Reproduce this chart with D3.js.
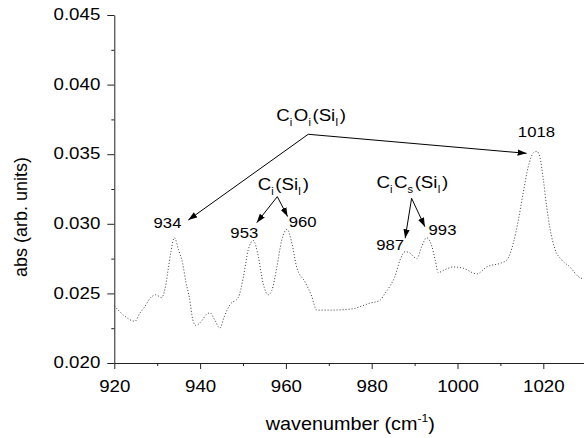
<!DOCTYPE html>
<html>
<head>
<meta charset="utf-8">
<script src="https://cdn.jsdelivr.net/npm/d3@7"></script>
<style>
  body { margin: 0; background: #fff; }
  svg text { font-family: 'Liberation Sans', Arial, sans-serif; fill: #000; }
</style>
</head>
<body>
<div id="chart"></div>
<script>
// spectrum
const wavenumber = [920.0, 922.3, 924.8, 926.0, 927.0, 928.5, 929.7, 931.0, 931.8, 932.5, 933.2, 934.0,
  935.0, 935.9, 936.7, 937.5, 938.3, 939.0, 940.3, 941.5, 942.3, 943.4, 944.6, 945.6, 947.0, 948.9,
  950.1, 951.2, 952.4, 953.6, 954.7, 955.9, 956.7, 957.9, 959.0, 960.3, 961.4, 962.5, 964.5, 966.0,
  967.2, 969.5, 970.7, 975.7, 977.7, 979.6, 981.9, 983.1, 984.2, 985.4, 986.6, 987.8, 988.9, 990.5,
  991.7, 992.8, 994.0, 994.8, 995.5, 997.0, 999.0, 1001.4, 1004.5, 1006.8, 1010.3, 1011.5, 1013.0,
  1014.2, 1015.3, 1016.5, 1017.7, 1018.5, 1019.2, 1020.0, 1020.8, 1021.6, 1022.7, 1024.3, 1026.2,
  1028.2, 1030.0]
const absorbance = [0.0241, 0.0234, 0.0230, 0.0236, 0.0240, 0.0247, 0.0249, 0.0247, 0.0253, 0.0266, 0.0280, 0.0290,
  0.0281, 0.0272, 0.0258, 0.0247, 0.0231, 0.0227, 0.0230, 0.0235, 0.0236, 0.0231, 0.0225, 0.0233, 0.0242, 0.0247,
  0.0262, 0.0281, 0.0288, 0.0276, 0.0257, 0.0249, 0.0252, 0.0269, 0.0288, 0.0296, 0.0286, 0.0269, 0.0258, 0.0248,
  0.0238, 0.0238, 0.0238, 0.0239, 0.0241, 0.0243, 0.0245, 0.0250, 0.0255, 0.0262, 0.0274, 0.0280, 0.0279, 0.0275,
  0.0284, 0.0290, 0.0284, 0.0274, 0.0265, 0.0267, 0.0269, 0.0268, 0.0264, 0.0269, 0.0272, 0.0274, 0.0286,
  0.0303, 0.0322, 0.0341, 0.0351, 0.0352, 0.0348, 0.0332, 0.0312, 0.0296, 0.0282, 0.0274, 0.0269,
  0.0262, 0.0260]

const xTicks = [920, 940, 960, 980, 1000, 1020]
const xMinor = [930, 950, 970, 990, 1010, 1030]
const yTicks = [0.020, 0.025, 0.030, 0.035, 0.040, 0.045]
const yMinor = [0.0225, 0.0275, 0.0325, 0.0375, 0.0425]

// peak numbers (centre x, baseline y in data units)
const peakText = ['934', '953', '960', '987', '993', '1018']
const peakX = [932.4, 950.3, 963.9, 984.3, 996.5, 1018.4]
const peakY = [0.02970, 0.02898, 0.02979, 0.02812, 0.02920, 0.03624]

// defect labels, pieces are [normal, subscript]
const groupParts = [
  [['C', 'i'], ['O', 'i'], ['(Si', 'I'], [')', '']],
  [['C', 'i'], ['(Si', 'I'], [')', '']],
  [['C', 'i'], ['C', 's'], ['(Si', 'I'], [')', '']]
]
const groupX = [965.9, 959.4, 989.5]
const groupY = [0.03739, 0.03243, 0.03254]

// arrows from label to peak
const arrowFromX = [965.2, 965.2, 958.0, 958.0, 989.3, 989.3]
const arrowFromY = [0.03643, 0.03643, 0.03195, 0.03195, 0.03183, 0.03183]
const arrowToX = [937.25, 1016.1, 953.2, 960.4, 987.8, 992.4]
const arrowToY = [0.03027, 0.03506, 0.03008, 0.03052, 0.02896, 0.02979]

const width = 584, height = 438
const sx = 1.1 // reference text is a bit wide

const svg = d3.select('#chart').append('svg')
  .attr('width', width)
  .attr('height', height)

const x = d3.scaleLinear().domain([920, 1030]).range([114.3, 586.2])
const y = d3.scaleLinear().domain([0.020, 0.045]).range([363, 15])

svg.append('defs').append('marker')
  .attr('id', 'head')
  .attr('markerUnits', 'userSpaceOnUse')
  .attr('viewBox', '0 0 10 7')
  .attr('markerWidth', 9).attr('markerHeight', 6.5)
  .attr('refX', 10).attr('refY', 3.5)
  .attr('orient', 'auto')
  .append('path').attr('d', 'M0,0 L10,3.5 L0,7 Z').attr('fill', '#000')

// axes
const gx = svg.append('g').attr('transform', `translate(0,${y(0.020)})`)
gx.call(d3.axisBottom(x).tickValues(xTicks).tickSize(6).tickSizeOuter(0).tickPadding(11).tickFormat(d3.format('d')))
gx.append('g').call(d3.axisBottom(x).tickValues(xMinor).tickSize(3).tickFormat(''))
  .select('.domain').remove()
gx.selectAll('text').style('font-size', '17px').attr('transform', `scale(${sx},1)`)

const gy = svg.append('g').attr('transform', `translate(${x(920)},0)`)
gy.call(d3.axisLeft(y).tickValues(yTicks).tickSize(7).tickSizeOuter(0).tickFormat(d3.format('.3f')))
gy.append('g').call(d3.axisLeft(y).tickValues(yMinor).tickSize(3).tickFormat(''))
  .select('.domain').remove()
gy.selectAll('text').style('font-size', '17px')
  .attr('x', -14 / sx).attr('dy', '0.28em')
  .attr('transform', `scale(${sx},1)`)

svg.selectAll('.domain, .tick line').attr('stroke', '#222')

// spectrum
const line = d3.line()
  .x((d, i) => x(wavenumber[i]))
  .y(d => y(d))
  .curve(d3.curveMonotoneX)

svg.append('path')
  .datum(absorbance)
  .attr('d', line)
  .attr('fill', 'none')
  .attr('stroke', '#3a3a3a')
  .attr('stroke-width', 1)
  .attr('stroke-dasharray', '1 2')

// arrows
svg.selectAll('.arrow')
  .data(arrowToX)
  .join('line')
  .attr('class', 'arrow')
  .attr('x1', (d, i) => x(arrowFromX[i]))
  .attr('y1', (d, i) => y(arrowFromY[i]))
  .attr('x2', d => x(d))
  .attr('y2', (d, i) => y(arrowToY[i]))
  .attr('stroke', '#000')
  .attr('stroke-width', 1)
  .attr('marker-end', 'url(#head)')

// peak numbers
svg.selectAll('.peak')
  .data(peakText)
  .join('text')
  .attr('class', 'peak')
  .attr('transform', (d, i) => `translate(${x(peakX[i])},${y(peakY[i])}) scale(${sx * 0.98},1)`)
  .attr('text-anchor', 'middle')
  .style('font-size', '15.5px')
  .text(d => d)

// defect labels with subscripts
groupParts.forEach((parts, i) => {
  const t = svg.append('text')
    .attr('transform', `translate(${x(groupX[i])},${y(groupY[i])}) scale(${sx},1)`)
    .attr('text-anchor', 'middle')
    .style('font-size', '17px')
  parts.forEach(p => {
    t.append('tspan').text(p[0])
    if (p[1]) {
      t.append('tspan').attr('dy', 5).style('font-size', '10px').text(p[1])
      t.append('tspan').attr('dy', -5).text('\u200a')
    }
  })
})

// axis titles
const xt = svg.append('text')
  .attr('transform', `translate(${(x(920) + x(1030)) / 2},430) scale(${sx},1)`)
  .attr('text-anchor', 'middle')
  .style('font-size', '18px')
xt.append('tspan').text('wavenumber (cm')
xt.append('tspan').attr('dy', -8).style('font-size', '11px').text('-1')
xt.append('tspan').attr('dy', 8).text(')')

svg.append('text')
  .attr('transform', 'translate(26.5,217) rotate(-90)')
  .attr('text-anchor', 'middle')
  .style('font-size', '18px')
  .text('abs (arb. units)')
</script>
</body>
</html>
